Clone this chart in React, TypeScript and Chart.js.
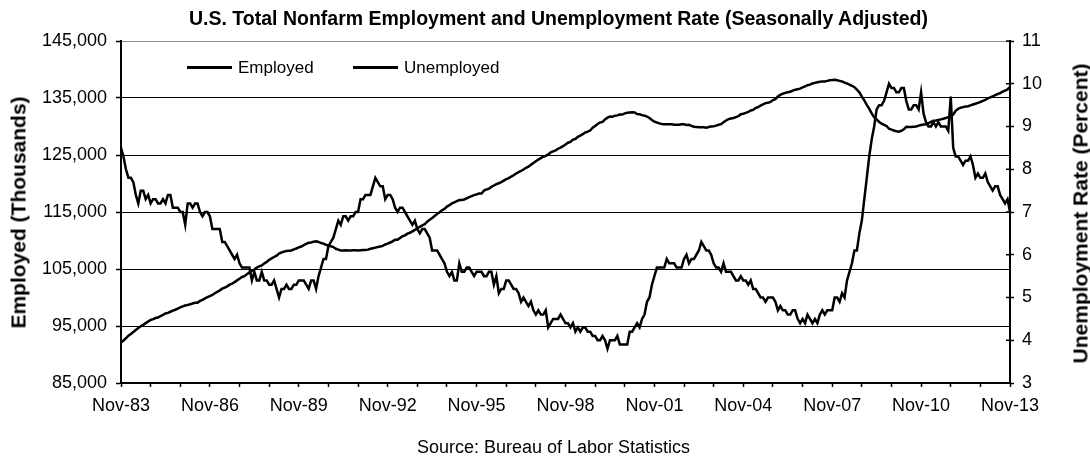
import React, { useEffect, useRef } from 'react';
import { Chart, registerables } from 'chart.js';

Chart.register(...registerables);

// ---------- data ----------
const MONTH_NAMES = ['Jan', 'Feb', 'Mar', 'Apr', 'May', 'Jun', 'Jul', 'Aug', 'Sep', 'Oct', 'Nov', 'Dec'];
const START_YEAR = 1983;
const START_MONTH = 10; // November (0-based)

// Total nonfarm employment, thousands, monthly Nov-1983 .. Nov-2013
const employedThousands: number[] = [
  92100, 92450,
  92850, 93300, 93600, 93950, 94300, 94650, 94950, 95200, 95500, 95800, 96050, 96200,
  96400, 96500, 96750, 96950, 97200, 97300, 97500, 97700, 97850, 98050, 98250, 98450,
  98600, 98700, 98800, 98950, 99100, 99100, 99400, 99600, 99850, 100050, 100250, 100450,
  100750, 101000, 101250, 101550, 101750, 101950, 102250, 102450, 102700, 103000, 103300, 103600,
  103750, 104100, 104400, 104650, 104900, 105250, 105450, 105650, 105950, 106250, 106600, 106850,
  107100, 107350, 107700, 107900, 108050, 108150, 108200, 108250, 108450, 108600, 108800, 108950,
  109200, 109400, 109600, 109650, 109800, 109850, 109750, 109550, 109450, 109250, 109100, 109000,
  108850, 108550, 108400, 108250, 108250, 108300, 108250, 108250, 108300, 108300, 108250, 108300,
  108350, 108350, 108400, 108550, 108650, 108750, 108850, 108950, 109050, 109300, 109450, 109650,
  109850, 110150, 110150, 110450, 110750, 110900, 111200, 111350, 111600, 111850, 112100, 112400,
  112650, 112850, 113300, 113650, 113950, 114300, 114650, 114950, 115300, 115550, 115950, 116200,
  116500, 116700, 116900, 117100, 117100, 117200, 117400, 117600, 117800, 117950, 118100, 118250,
  118250, 118750, 118950, 119100, 119400, 119650, 119900, 120050, 120250, 120500, 120750, 120950,
  121200, 121450, 121750, 122000, 122200, 122450, 122750, 122950, 123300, 123600, 123900, 124200,
  124450, 124700, 124850, 125100, 125450, 125650, 125800, 126100, 126300, 126550, 126850, 127150,
  127300, 127700, 127800, 128200, 128400, 128650, 128950, 129100, 129300, 129800, 130100, 130450,
  130700, 130800, 131250, 131550, 131750, 131700, 131900, 131950, 132100, 132100, 132300, 132400,
  132450, 132500, 132450, 132200, 132150, 132000, 131900, 131750, 131500, 131150, 130850, 130700,
  130550, 130450, 130400, 130400, 130400, 130400, 130300, 130300, 130300, 130400, 130400, 130250,
  130300, 130100, 129950, 129900, 129850, 129850, 129850, 129800, 129900, 130000, 130050, 130150,
  130300, 130400, 130750, 131050, 131300, 131400, 131500, 131650, 131800, 132150, 132250, 132400,
  132550, 132800, 132900, 133250, 133400, 133650, 133900, 134100, 134150, 134300, 134650, 134800,
  135250, 135550, 135750, 135900, 136000, 136100, 136300, 136450, 136550, 136650, 136850, 137050,
  137250, 137350, 137550, 137650, 137750, 137850, 137900, 137900, 138000, 138100, 138150, 138200,
  138100, 138000, 137900, 137700, 137550, 137350, 137150, 136900, 136450, 136000, 135250, 134600,
  133800, 133100, 132300, 131600, 131250, 130800, 130500, 130300, 130100, 129600, 129450, 129300,
  129150, 129100, 129250, 129500, 129950, 129900, 129900, 129950, 130000, 130150, 130250, 130350,
  130400, 130600, 130800, 131000, 131050, 131150, 131250, 131350, 131500, 131650, 131800, 132100,
  132750, 133100, 133300, 133400, 133500, 133550, 133700, 133850, 134000, 134150, 134300, 134500,
  134650, 134950, 135100, 135300, 135500, 135700, 135850, 136100, 136300, 136500, 136950,
];

// Unemployment rate, percent, monthly Nov-1983 .. Nov-2013
const unemploymentRate: number[] = [
  8.5, 8.3,
  8.0, 7.8, 7.8, 7.7, 7.4, 7.2, 7.5, 7.5, 7.3, 7.4, 7.2, 7.3,
  7.3, 7.2, 7.2, 7.3, 7.2, 7.4, 7.4, 7.1, 7.1, 7.1, 7.0, 7.0,
  6.7, 7.2, 7.2, 7.1, 7.2, 7.2, 7.0, 6.9, 7.0, 7.0, 6.9, 6.6,
  6.6, 6.6, 6.6, 6.3, 6.3, 6.2, 6.1, 6.0, 5.9, 6.0, 5.8, 5.7,
  5.7, 5.7, 5.7, 5.4, 5.6, 5.4, 5.4, 5.6, 5.4, 5.4, 5.3, 5.3,
  5.4, 5.2, 5.0, 5.2, 5.2, 5.3, 5.2, 5.2, 5.3, 5.3, 5.4, 5.4,
  5.4, 5.3, 5.2, 5.4, 5.4, 5.2, 5.5, 5.7, 5.9, 5.9, 6.2, 6.3,
  6.4, 6.6, 6.8, 6.7, 6.9, 6.9, 6.8, 6.9, 6.9, 7.0, 7.0, 7.3,
  7.3, 7.4, 7.4, 7.4, 7.6, 7.8, 7.7, 7.6, 7.6, 7.3, 7.4, 7.4,
  7.3, 7.1, 7.0, 7.1, 7.1, 7.0, 6.9, 6.8, 6.7, 6.8, 6.6, 6.5,
  6.6, 6.6, 6.5, 6.4, 6.1, 6.1, 6.1, 6.0, 5.9, 5.8, 5.6, 5.5,
  5.6, 5.4, 5.4, 5.8, 5.6, 5.6, 5.7, 5.7, 5.6, 5.5, 5.6, 5.6,
  5.6, 5.5, 5.5, 5.6, 5.6, 5.3, 5.5, 5.1, 5.2, 5.2, 5.4, 5.4,
  5.3, 5.2, 5.2, 5.1, 4.9, 5.0, 4.9, 4.8, 4.9, 4.7, 4.6, 4.7,
  4.6, 4.6, 4.7, 4.3, 4.4, 4.5, 4.5, 4.5, 4.6, 4.5, 4.4, 4.4,
  4.3, 4.4, 4.2, 4.3, 4.2, 4.3, 4.3, 4.2, 4.2, 4.1, 4.1, 4.0,
  4.0, 4.1, 4.0, 3.8, 4.0, 4.0, 4.0, 4.1, 3.9, 3.9, 3.9, 3.9,
  4.2, 4.2, 4.3, 4.4, 4.3, 4.5, 4.6, 4.9, 5.0, 5.3, 5.5, 5.7,
  5.7, 5.7, 5.7, 5.9, 5.8, 5.8, 5.8, 5.7, 5.7, 5.7, 5.9, 6.0,
  5.8, 5.9, 5.9, 6.0, 6.1, 6.3, 6.2, 6.1, 6.1, 6.0, 5.8, 5.7,
  5.7, 5.6, 5.8, 5.6, 5.6, 5.6, 5.5, 5.4, 5.4, 5.5, 5.4, 5.4,
  5.3, 5.4, 5.2, 5.2, 5.1, 5.0, 5.0, 4.9, 5.0, 5.0, 5.0, 4.9,
  4.7, 4.8, 4.7, 4.7, 4.6, 4.6, 4.7, 4.7, 4.5, 4.4, 4.5, 4.4,
  4.6, 4.5, 4.4, 4.5, 4.4, 4.6, 4.7, 4.6, 4.7, 4.7, 4.7, 5.0,
  5.0, 4.9, 5.1, 5.0, 5.4, 5.6, 5.8, 6.1, 6.1, 6.5, 6.8, 7.3,
  7.8, 8.3, 8.7, 9.0, 9.4, 9.5, 9.5, 9.6, 9.8, 10.0, 9.9, 9.9,
  9.8, 9.8, 9.9, 9.9, 9.6, 9.4, 9.4, 9.5, 9.5, 9.4, 9.8, 9.3,
  9.1, 9.0, 9.0, 9.1, 9.0, 9.1, 9.0, 9.0, 9.0, 8.9, 9.7, 8.5,
  8.3, 8.3, 8.2, 8.1, 8.2, 8.2, 8.3, 8.1, 7.8, 7.9, 7.8, 7.8,
  7.9, 7.7, 7.6, 7.5, 7.6, 7.6, 7.4, 7.3, 7.2, 7.3, 7.0,
];

// Month categories: Nov-83 .. Nov-13
const monthLabels: string[] = employedThousands.map((_, i) => {
  const m = (START_MONTH + i) % 12;
  const y = START_YEAR + Math.floor((START_MONTH + i) / 12);
  return `${MONTH_NAMES[m]}-${String(y % 100).padStart(2, '0')}`;
});

const X_LABEL_EVERY = 36; // labelled every 3 years
const X_MARK_EVERY = 12;  // tick marks every year

const LEFT_MIN = 85000;
const LEFT_MAX = 145000;
const LEFT_STEP = 10000;
const RIGHT_MIN = 3;
const RIGHT_MAX = 11;
const RIGHT_STEP = 1;

const TITLE = 'U.S. Total Nonfarm Employment and Unemployment Rate (Seasonally Adjusted)';
const LEFT_TITLE = 'Employed (Thousands)';
const RIGHT_TITLE = 'Unemployment Rate (Percent)';
const SOURCE = 'Source: Bureau of Labor Statistics';
const SERIES_NAMES = ['Employed', 'Unemployed'];

const FONT = '"Liberation Sans", Arial, Helvetica, sans-serif';

const W = 1090;
const H = 459;

const innerTicks = {
  id: 'innerTicks',
  afterDraw(chart: any) {
    const ctx = chart.ctx;
    const yR = chart.scales.yR;
    ctx.save();
    ctx.strokeStyle = '#000';
    ctx.lineWidth = 1.5;
    yR.ticks.forEach((_: any, i: number) => {
      const y = yR.getPixelForTick(i);
      ctx.beginPath();
      ctx.moveTo(yR.left - 4, y);
      ctx.lineTo(yR.left, y);
      ctx.stroke();
    });
    ctx.restore();
  },
};

function ChartCanvas() {
  const ref = useRef<HTMLCanvasElement | null>(null);

  useEffect(() => {
    if (!ref.current) return;
    const chart = new Chart(ref.current, {
      type: 'line',
      data: {
        labels: monthLabels,
        datasets: [
          {
            label: SERIES_NAMES[0],
            data: employedThousands,
            yAxisID: 'yL',
            borderColor: '#000',
            borderWidth: 2.5,
            pointRadius: 0,
            tension: 0,
            fill: false,
          },
          {
            label: SERIES_NAMES[1],
            data: unemploymentRate,
            yAxisID: 'yR',
            borderColor: '#000',
            borderWidth: 2.5,
            pointRadius: 0,
            tension: 0,
            fill: false,
          },
        ],
      },
      options: {
        animation: false,
        responsive: false,
        maintainAspectRatio: false,
        events: [],
        layout: { padding: { top: 41, left: 0, right: 0, bottom: 0 } },
        plugins: {
          legend: { display: false },
          title: { display: false },
          tooltip: { enabled: false },
        },
        scales: {
          x: {
            type: 'category',
            offset: false,
            grid: {
              drawOnChartArea: false,
              drawTicks: true,
              tickLength: 4,
              tickWidth: 1.5,
              tickColor: (c: any) => (c.index % X_MARK_EVERY === 0 ? '#000' : 'rgba(0,0,0,0)'),
              color: 'rgba(0,0,0,0)',
            },
            border: { display: true, color: '#000', width: 2 },
            ticks: {
              autoSkip: false,
              maxRotation: 0,
              minRotation: 0,
              padding: 8,
              color: '#000',
              font: { family: FONT, size: 18 },
              callback: function (this: any, value: any, index: number) {
                return index % X_LABEL_EVERY === 0 ? monthLabels[index] : '';
              },
            },
            afterFit: (s: any) => {
              s.height = H - 383;
            },
          },
          yL: {
            type: 'linear',
            position: 'left',
            min: LEFT_MIN,
            max: LEFT_MAX,
            grid: {
              drawOnChartArea: true,
              tickLength: 5,
              lineWidth: 1,
              tickWidth: 1.5,
              color: (c: any) => (c.tick && c.tick.value === LEFT_MAX ? '#8c8c8c' : '#000'),
              tickColor: '#000',
            },
            border: { display: true, color: '#000', width: 2 },
            ticks: {
              stepSize: LEFT_STEP,
              padding: 9,
              color: '#000',
              font: { family: FONT, size: 18 },
              callback: (v: any) => Number(v).toLocaleString('en-US'),
            },
            afterFit: (s: any) => {
              s.width = 121;
            },
          },
          yR: {
            type: 'linear',
            position: 'right',
            min: RIGHT_MIN,
            max: RIGHT_MAX,
            grid: {
              drawOnChartArea: false,
              tickLength: 4,
              tickWidth: 1.5,
              tickColor: '#000',
            },
            border: { display: true, color: '#000', width: 2 },
            ticks: {
              stepSize: RIGHT_STEP,
              padding: 8,
              color: '#000',
              font: { family: FONT, size: 18 },
            },
            afterFit: (s: any) => {
              s.width = W - 1010;
            },
          },
        },
      },
      plugins: [innerTicks],
    });
    return () => chart.destroy();
  }, []);

  return <canvas ref={ref} width={W} height={H} style={{ position: 'absolute', left: 0, top: 0, width: W, height: H }} />;
}

const textBase: React.CSSProperties = {
  position: 'absolute',
  fontFamily: FONT,
  color: '#000',
  lineHeight: 1,
  whiteSpace: 'nowrap',
};

function RotatedTitle({ text, cx, cy, size }: { text: string; cx: number; cy: number; size: number }) {
  const boxW = 400;
  return (
    <div
      style={{
        ...textBase,
        fontWeight: 'bold',
        fontSize: size,
        width: boxW,
        height: size,
        left: cx - boxW / 2,
        top: cy - size / 2,
        textAlign: 'center',
        transform: 'rotate(-90deg)',
        transformOrigin: '50% 50%',
      }}
    >
      {text}
    </div>
  );
}

function LegendItem({ x, lineW, text }: { x: number; lineW: number; text: string }) {
  return (
    <>
      <div style={{ position: 'absolute', left: x, top: 66, width: lineW, height: 2.5, background: '#000' }} />
      <div style={{ ...textBase, fontSize: 17, left: x + lineW + 6, top: 59 }}>{text}</div>
    </>
  );
}

export default function App() {
  return (
    <div style={{ position: 'fixed', left: 0, top: 0, width: W, height: H, background: '#fff', overflow: 'hidden' }}>
      <ChartCanvas />
      <div style={{ ...textBase, fontWeight: 'bold', fontSize: 19.5, left: 558.5 - 500, width: 1000, top: 8.5, textAlign: 'center' }}>
        {TITLE}
      </div>
      <RotatedTitle text={LEFT_TITLE} cx={18} cy={212} size={21} />
      <RotatedTitle text={RIGHT_TITLE} cx={1080} cy={213.5} size={21} />
      <LegendItem x={187} lineW={45} text={SERIES_NAMES[0]} />
      <LegendItem x={353} lineW={45} text={SERIES_NAMES[1]} />
      <div style={{ ...textBase, fontSize: 18, left: 553.5 - 300, width: 600, top: 437.8, textAlign: 'center' }}>
        {SOURCE}
      </div>
    </div>
  );
}
